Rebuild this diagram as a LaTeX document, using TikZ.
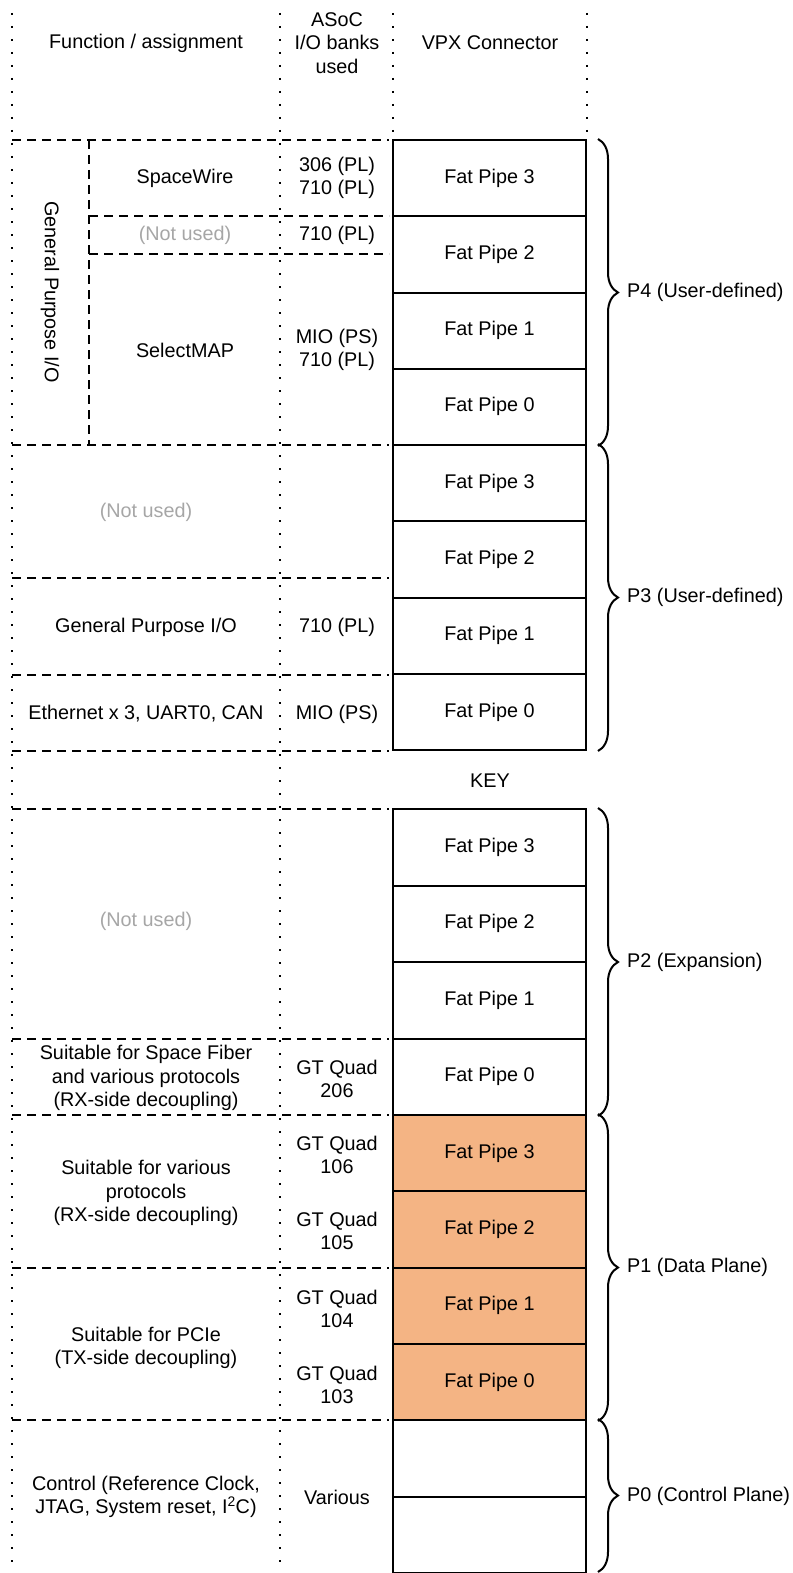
\documentclass[tikz,border=0pt]{standalone}
\usepackage{fontspec}
\setmainfont{Liberation Sans}
\usetikzlibrary{decorations.pathreplacing}
\definecolor{pipeorange}{RGB}{244,180,132}
\definecolor{notused}{RGB}{166,166,166}
\newcommand{\diagfont}{\fontsize{19.8}{23.5}\selectfont}
\begin{document}
\begin{tikzpicture}[x=1pt,y=-1pt,
  txt/.style={font=\diagfont, align=center, inner sep=0pt},
  grey/.style={txt, text=notused},
  dotline/.style={line width=2pt, dash pattern=on 2pt off 11pt},
  dashline/.style={line width=2pt, dash pattern=on 9pt off 6pt},
  pipebox/.style={draw, line width=2pt, minimum width=193pt, inner sep=0pt, font=\diagfont},
  orangebox/.style={pipebox, fill=pipeorange},
  bracket/.style={line width=2pt, decorate, decoration={brace, amplitude=20pt}},
  lbl/.style={txt, anchor=west}]
\useasboundingbox (0,0) rectangle (792,1573);

% ---------- VPX connector pipes ----------
\foreach \n/\y/\t in {p4a/178.125/Fat Pipe 3, p4b/254.375/Fat Pipe 2, p4c/330.625/Fat Pipe 1, p4d/406.875/Fat Pipe 0,
                       p3a/483.125/Fat Pipe 3, p3b/559.375/Fat Pipe 2, p3c/635.625/Fat Pipe 1, p3d/711.875/Fat Pipe 0}
  \node[pipebox, minimum height=76.25pt] (\n) at (489.5,\y) {\t};
\foreach \n/\y/\t in {p2a/847.25/Fat Pipe 3, p2b/923.75/Fat Pipe 2, p2c/1000.25/Fat Pipe 1, p2d/1076.75/Fat Pipe 0}
  \node[pipebox, minimum height=76.5pt] (\n) at (489.5,\y) {\t};
\foreach \n/\y/\t in {p1a/1153.125/Fat Pipe 3, p1b/1229.375/Fat Pipe 2, p1c/1305.625/Fat Pipe 1, p1d/1381.875/Fat Pipe 0}
  \node[orangebox, minimum height=76.25pt] (\n) at (489.5,\y) {\t};
\node[pipebox, minimum height=76.5pt] (p0a) at (489.5,1458.25) {};
\node[pipebox, minimum height=76.5pt] (p0b) at (489.5,1534.75) {};

% ---------- dotted column rules ----------
\draw[dotline] (12,13) -- (12,1573);
\draw[dotline] (280,13) -- (280,1573);
\draw[dotline] (393,13) -- (393,136);
\draw[dotline] (587,13) -- (587,136);

% ---------- dashed row rules ----------
\foreach \y in {140,445,578,675,751,809,1038.5,1115,1267.5,1420}
  \draw[dashline] (12,\y) -- (389,\y);
\draw[dashline] (89,140) -- (89,445);
\draw[dashline] (89,216.25) -- (389,216.25);
\draw[dashline] (89,254.4) -- (389,254.4);

% ---------- header ----------
\node[txt] (hfun) at (146,43) {Function / assignment};
\node[txt] (hasoc) at (337,43) {ASoC\\I/O banks\\used};
\node[txt] (hvpx) at (490,43) {VPX Connector};

% ---------- P4 rows ----------
\node[txt, rotate=-90] (gpio4) at (50,292) {General Purpose I/O};
\node[txt] (spw) at (185,178) {SpaceWire};
\node[txt] (spwb) at (337,178) {306 (PL)\\710 (PL)};
\node[grey] (nu1) at (185,235.5) {(Not used)};
\node[txt] (nu1b) at (337,235.5) {710 (PL)};
\node[txt] (smap) at (185,350) {SelectMAP};
\node[txt] (smapb) at (337,350) {MIO (PS)\\710 (PL)};

% ---------- P3 rows ----------
\node[grey] (nu2) at (146,512) {(Not used)};
\node[txt] (gpio3) at (146,627) {General Purpose I/O};
\node[txt] (gpio3b) at (337,627) {710 (PL)};
\node[txt] (eth) at (146,714) {Ethernet x 3, UART0, CAN};
\node[txt] (ethb) at (337,714) {MIO (PS)};

% ---------- key ----------
\node[txt] (key) at (490,781) {KEY};

% ---------- P2 rows ----------
\node[grey] (nu3) at (146,921) {(Not used)};
\node[txt] (sfib) at (146,1078) {Suitable for Space Fiber\\and various protocols\\(RX-side decoupling)};
\node[txt] (sfibb) at (337,1079) {GT Quad\\206};

% ---------- P1 rows ----------
\node[txt] (various) at (146,1193) {Suitable for various\\protocols\\(RX-side decoupling)};
\node[txt] (q106) at (337,1155) {GT Quad\\106};
\node[txt] (q105) at (337,1231) {GT Quad\\105};
\node[txt] (pcie) at (146,1348) {Suitable for PCIe\\(TX-side decoupling)};
\node[txt] (q104) at (337,1309) {GT Quad\\104};
\node[txt] (q103) at (337,1385) {GT Quad\\103};

% ---------- P0 rows ----------
\node[txt] (ctrl) at (146,1497) {Control (Reference Clock,\\JTAG, System reset, I\textsuperscript{2}C)};
\node[txt] (var) at (337,1497) {Various};

% ---------- braces and labels ----------
\draw[bracket] ([xshift=11pt]p4a.north east) -- ([xshift=11pt]p4d.south east);
\draw[bracket] ([xshift=11pt]p3a.north east) -- ([xshift=11pt]p3d.south east);
\draw[bracket] ([xshift=11pt]p2a.north east) -- ([xshift=11pt]p2d.south east);
\draw[bracket] ([xshift=11pt]p1a.north east) -- ([xshift=11pt]p1d.south east);
\draw[bracket] ([xshift=11pt]p0a.north east) -- ([xshift=11pt,yshift=2pt]p0b.south east);
\node[lbl] (lp4) at (627,292.5) {P4 (User-defined)};
\node[lbl] (lp3) at (627,597.5) {P3 (User-defined)};
\node[lbl] (lp2) at (627,962) {P2 (Expansion)};
\node[lbl] (lp1) at (627,1267.5) {P1 (Data Plane)};
\node[lbl] (lp0) at (627,1496.5) {P0 (Control Plane)};
\end{tikzpicture}
\end{document}
